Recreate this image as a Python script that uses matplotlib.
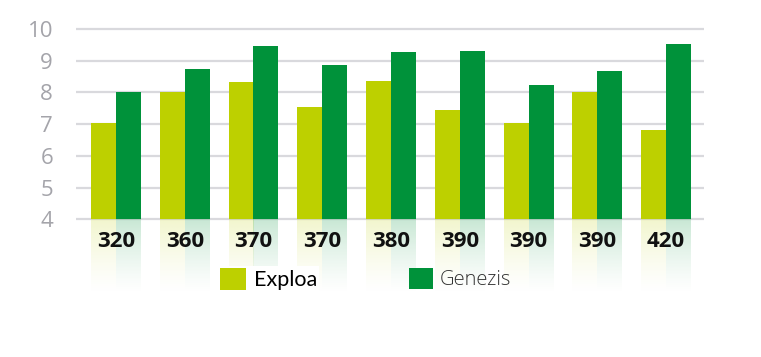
import numpy as np
import matplotlib
matplotlib.use("Agg")
import matplotlib.pyplot as plt
from matplotlib.patches import Patch

categories = ["320", "360", "370", "370", "380", "390", "390", "390", "420"]
exploa = [7.05, 8.0, 8.32, 7.55, 8.35, 7.45, 7.05, 8.0, 6.81]
genezis = [8.0, 8.74, 9.45, 8.88, 9.27, 9.32, 8.22, 8.69, 9.53]
series_names = ["Exploa", "Genezis"]
yticks = [4, 5, 6, 7, 8, 9, 10]

c_exploa = "#bdd000"
c_genezis = "#00923a"

fig = plt.figure(figsize=(7.61, 3.57), dpi=100)
ax = fig.add_axes([0.0999, 0.1639, 0.8252, 0.7815])

x = np.arange(len(categories))
w = 0.363
base = yticks[0]
refl_len = 2.4

for yv in yticks:
    ax.axhline(yv, color="#d9d9dd", lw=1.6, zorder=1)

ax.bar(x - w / 2, np.array(exploa) - base, width=w, bottom=base, color=c_exploa, zorder=2)
ax.bar(x + w / 2, np.array(genezis) - base, width=w, bottom=base, color=c_genezis, zorder=2)

# reflections
def gradient(color, a0):
    rgb = matplotlib.colors.to_rgb(color)
    n = 100
    arr = np.zeros((n, 1, 4))
    arr[:, 0, :3] = rgb
    arr[:, 0, 3] = a0 * (1 - np.linspace(0, 1.0, n)) ** 1.3
    return arr

g_e = gradient(c_exploa, 0.2)
g_g = gradient(c_genezis, 0.22)
for xi in x:
    ax.imshow(g_e, extent=[xi - w, xi, base - refl_len, base], aspect="auto",
              origin="upper", zorder=1.5, interpolation="bilinear")
    ax.imshow(g_g, extent=[xi, xi + w, base - refl_len, base], aspect="auto",
              origin="upper", zorder=1.5, interpolation="bilinear")

for xi, lab in zip(x, categories):
    ax.text(xi, 3.3, lab, ha="center", va="center", fontsize=16,
            fontweight="bold", family="Open Sans", color="#111111", zorder=3)

ax.set_xlim(-0.58, 8.55)
ax.set_ylim(1.5, 10.3)
ax.set_yticks(yticks)
ax.set_yticklabels([str(v) for v in yticks], family="Open Sans", fontweight="normal",
                   fontsize=16, color="#a4a4aa")
ax.tick_params(axis="y", length=0, pad=16.5)
ax.set_xticks([])
for s in ax.spines.values():
    s.set_visible(False)

leg1 = fig.legend(handles=[Patch(facecolor=c_exploa)], labels=[series_names[0]],
                  loc="center left", bbox_to_anchor=(218 / 761, 1 - 279 / 357),
                  frameon=True, facecolor="white", edgecolor="none", framealpha=1,
                  handlelength=1.2, handleheight=1.2, handletextpad=0.35,
                  borderpad=0.1, borderaxespad=0,
                  prop={"family": "Lato", "size": 15.5})
leg1.get_frame().set_boxstyle("square", pad=0)
for t in leg1.get_texts():
    t.set_color("#000000")

leg2 = fig.legend(handles=[Patch(facecolor=c_genezis)], labels=[series_names[1]],
                  loc="center left", bbox_to_anchor=(407 / 761, 1 - 279 / 357),
                  frameon=False,
                  handlelength=1.2, handleheight=1.2, handletextpad=0.35,
                  borderpad=0.1, borderaxespad=0,
                  prop={"family": "Open Sans", "size": 14.5, "weight": "light"})
for t in leg2.get_texts():
    t.set_color("#333333")

fig.savefig("out.png", dpi=100, facecolor="white")
